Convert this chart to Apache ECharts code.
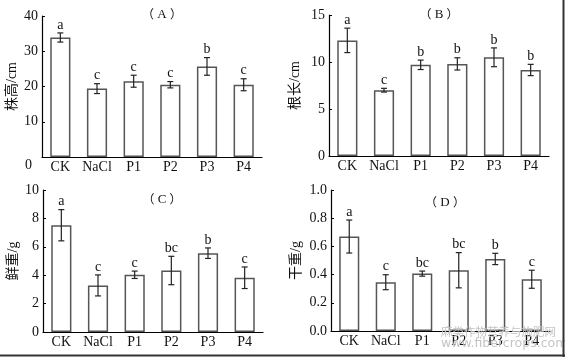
<!DOCTYPE html>
<html><head><meta charset="utf-8">
<script src="https://cdn.jsdelivr.net/npm/echarts@6/dist/echarts.min.js"></script>
<style>html,body{margin:0;padding:0;background:#fff}#c{width:565px;height:357px}</style>
</head><body><div id="c"></div>
<script>
const categories = ['CK', 'NaCl', 'P1', 'P2', 'P3', 'P4'];

const heightMean = [33.9, 19.4, 21.5, 20.5, 25.7, 20.5];
const heightErr  = [1.3, 1.4, 1.7, 0.9, 2.5, 1.7];
const heightSig  = ['a', 'c', 'c', 'c', 'b', 'c'];

const rootMean = [12.3, 7.0, 9.7, 9.8, 10.5, 9.15];
const rootErr  = [1.3, 0.2, 0.5, 0.65, 1.0, 0.6];
const rootSig  = ['a', 'c', 'b', 'b', 'b', 'b'];

const freshMean = [7.52, 3.28, 4.03, 4.33, 5.55, 3.82];
const freshErr  = [1.1, 0.74, 0.26, 1.0, 0.37, 0.76];
const freshSig  = ['a', 'c', 'c', 'bc', 'b', 'c'];

const dryMean = [0.67, 0.346, 0.407, 0.431, 0.511, 0.367];
const dryErr  = [0.117, 0.053, 0.018, 0.125, 0.04, 0.064];
const drySig  = ['a', 'c', 'bc', 'bc', 'b', 'c'];

const panelLetters = ['A', 'B', 'C', 'D'];
const axisNames = ['株高/cm', '根长/cm', '鲜重/g', '干重/g'];
const yMax = [40, 15, 10, 1.0];
const yInterval = [10, 5, 2, 0.2];

const SERIF = '"Liberation Serif","Times New Roman","Noto Sans CJK SC",serif';
const CJK = '"Noto Sans CJK SC",sans-serif';
const INK = '#111';

const grids = [
  {left: 42, top: 16, width: 220, height: 141},
  {left: 329, top: 15, width: 220, height: 141},
  {left: 43, top: 190, width: 220, height: 142},
  {left: 331, top: 190, width: 219, height: 141}
];
const titlePos = [[157, 3], [434, 3], [157, 188], [440, 191]];
const nameGaps = [23, 27, 23, 28];

const panels = [
  [heightMean, heightErr, heightSig],
  [rootMean, rootErr, rootSig],
  [freshMean, freshErr, freshSig],
  [dryMean, dryErr, drySig]
];

const xAxes = [], yAxes = [], series = [], titles = [];
panels.forEach((p, k) => {
  const [mean, err, sig] = p;
  titles.push({
    text: '{p|（} {l|' + panelLetters[k] + '} {p|）}', left: titlePos[k][0], top: titlePos[k][1], textAlign: 'center',
    textStyle: {
      fontFamily: SERIF, fontSize: 13, fontWeight: 'normal', color: INK,
      rich: {
        p: {fontFamily: CJK, fontSize: 12, color: INK},
        l: {fontFamily: SERIF, fontSize: 13, color: INK}
      }
    }
  });
  xAxes.push({
    type: 'category', gridIndex: k, data: categories,
    axisLine: {lineStyle: {color: '#000', width: 1.2}},
    axisTick: {show: false},
    axisLabel: {color: INK, fontFamily: SERIF, fontSize: 14, margin: 3, interval: 0}
  });
  yAxes.push({
    type: 'value', gridIndex: k, min: 0, max: yMax[k], interval: yInterval[k],
    name: axisNames[k], nameLocation: 'middle', nameGap: nameGaps[k], nameRotate: 90,
    nameTextStyle: {color: INK, fontFamily: SERIF, fontSize: 14},
    splitLine: {show: false},
    axisLine: {show: true, lineStyle: {color: '#000', width: 1.2}},
    axisTick: {show: true, inside: true, length: 3, lineStyle: {color: '#000'}},
    axisLabel: {
      color: INK, fontFamily: SERIF, fontSize: 14, margin: 4,
      formatter: (v) => {
        if (k === 3) return v.toFixed(1);
        if (k === 0 && v === 0) return '{z|0}';
        return String(v);
      },
      rich: {z: {fontFamily: SERIF, fontSize: 14, color: INK, padding: [17, 6, 0, 0]}}
    }
  });
  series.push({
    type: 'bar', xAxisIndex: k, yAxisIndex: k, data: mean, barWidth: '55%',
    itemStyle: {color: '#fff', borderColor: '#555', borderWidth: 1.5}, z: 2
  });
  series.push({
    type: 'custom', xAxisIndex: k, yAxisIndex: k, z: 5,
    data: mean.map((m, i) => [i, m, err[i]]),
    renderItem: (params, api) => {
      const i = api.value(0), m = api.value(1), e = api.value(2);
      const top = api.coord([i, m + e]);
      const bot = api.coord([i, m - e]);
      const x = top[0];
      const st = {stroke: '#222', lineWidth: 1.2};
      return {
        type: 'group', children: [
          {type: 'line', shape: {x1: x, y1: top[1], x2: x, y2: bot[1]}, style: st},
          {type: 'line', shape: {x1: x - 3, y1: top[1], x2: x + 3, y2: top[1]}, style: st},
          {type: 'line', shape: {x1: x - 3, y1: bot[1], x2: x + 3, y2: bot[1]}, style: st},
          {type: 'text', x: x, y: top[1] - 1, style: {
            text: sig[params.dataIndex], align: 'center', verticalAlign: 'bottom',
            fontFamily: SERIF, fontSize: 14, fill: INK}}
        ]
      };
    }
  });
});

const chart = echarts.init(document.getElementById('c'), null, {renderer: 'canvas'});
chart.setOption({
  animation: false,
  backgroundColor: '#fff',
  title: titles,
  grid: grids,
  xAxis: xAxes,
  yAxis: yAxes,
  series: series,
  graphic: [
    {type: 'text', left: 441, top: 326, z: 10, style: {text: '麻类作物营养与施肥网', fontFamily: CJK, fontSize: 11.5, fill: '#c4c4c4'}},
    {type: 'text', left: 441, top: 337, z: 10, style: {text: 'www.fibercrops.com', fontFamily: '"DejaVu Sans",sans-serif', fontSize: 12.5, fill: '#c4c4c4'}},
    {type: 'line', z: 10, shape: {x1: 563.5, y1: 0, x2: 563.5, y2: 357}, style: {stroke: '#333', lineWidth: 2}},
    {type: 'line', z: 10, shape: {x1: 0, y1: 355.5, x2: 565, y2: 355.5}, style: {stroke: '#333', lineWidth: 2}}
  ]
});
</script></body></html>
